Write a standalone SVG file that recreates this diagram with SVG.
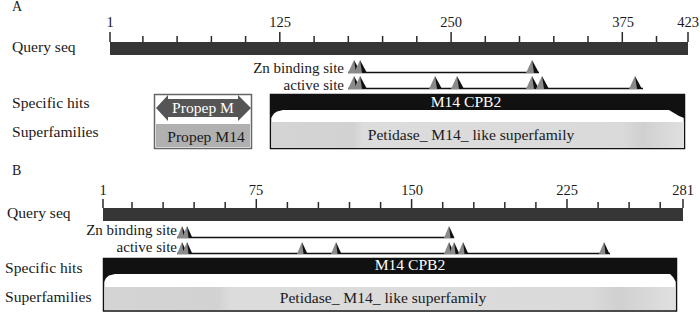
<svg xmlns="http://www.w3.org/2000/svg" xmlns:xlink="http://www.w3.org/1999/xlink" width="700" height="312" viewBox="0 0 700 312">
<style>
text{font-family:"Liberation Serif","Times New Roman",serif;fill:#1a1a1a;font-size:15.6px}
.panel{font-size:14px}
.tl{font-size:14.5px;text-anchor:middle}
.site-l{font-size:15px}
.mid{text-anchor:middle}
.end{text-anchor:end}
.wt{fill:#ffffff}
.bar{fill:#363636}
.tick{stroke:#2a2a2a;stroke-width:1.5}
.site{stroke:#111;stroke-width:1.5}
.frame{fill:#ffffff;stroke:#111;stroke-width:1.5}
.hit{fill:#111}
.sf{fill:url(#sfg)}
</style>
<defs>
<linearGradient id="sfg" x1="0" y1="0" x2="1" y2="0">
<stop offset="0" stop-color="#d4d4d4"/>
<stop offset="0.2" stop-color="#d2d2d2"/>
<stop offset="0.22" stop-color="#dcdcdc"/>
<stop offset="0.85" stop-color="#dadada"/>
<stop offset="0.9" stop-color="#d0d0d0"/>
<stop offset="1" stop-color="#e0e0e0"/>
</linearGradient>
<g id="triA"><polygon points="-6,13 0,0 3,13" fill="#8a8a8a"/><polygon points="0,0 7,13 2,13" fill="#111"/></g>
<g id="triB"><polygon points="-5,12 0,0 2.5,12" fill="#8a8a8a"/><polygon points="0,0 5.5,12 1.5,12" fill="#111"/></g>
</defs>

<!-- Panel A -->
<g id="panelA">
<text class="panel" x="12" y="11">A</text>
<g id="A-labels">
<text x="12" y="52">Query seq</text>
<text x="12" y="108">Specific hits</text>
<text x="12" y="137">Superfamilies</text>
<text class="end site-l" x="344" y="72.5">Zn binding site</text>
<text class="end site-l" x="344" y="89.5">active site</text>
</g>
<g id="A-query">
<rect class="bar" x="110" y="42" width="578" height="13"/>
<g class="tick">
<line x1="110" y1="32" x2="110" y2="42"/><line x1="142.9" y1="36" x2="142.9" y2="42"/><line x1="177.1" y1="36" x2="177.1" y2="42"/><line x1="211.4" y1="36" x2="211.4" y2="42"/><line x1="245.6" y1="36" x2="245.6" y2="42"/><line x1="279.8" y1="32" x2="279.8" y2="42"/><line x1="314.1" y1="36" x2="314.1" y2="42"/><line x1="348.3" y1="36" x2="348.3" y2="42"/><line x1="382.6" y1="36" x2="382.6" y2="42"/><line x1="416.8" y1="36" x2="416.8" y2="42"/><line x1="451.1" y1="32" x2="451.1" y2="42"/><line x1="485.3" y1="36" x2="485.3" y2="42"/><line x1="519.5" y1="36" x2="519.5" y2="42"/><line x1="553.8" y1="36" x2="553.8" y2="42"/><line x1="588" y1="36" x2="588" y2="42"/><line x1="622.3" y1="32" x2="622.3" y2="42"/><line x1="656.5" y1="36" x2="656.5" y2="42"/><line x1="688" y1="32" x2="688" y2="42"/>
</g>
<text class="tl" x="110" y="27">1</text>
<text class="tl" x="280" y="27">125</text>
<text class="tl" x="451" y="27">250</text>
<text class="tl" x="623" y="27">375</text>
<text class="tl" x="688" y="27">423</text>
</g>
<g id="A-sites">
<line class="site" x1="348" y1="72.5" x2="539" y2="72.5"/>
<use xlink:href="#triA" x="354" y="60"/><use xlink:href="#triA" x="360" y="60"/><use xlink:href="#triA" x="532" y="60"/>
<line class="site" x1="348" y1="88.5" x2="643" y2="88.5"/>
<use xlink:href="#triA" x="354" y="76"/><use xlink:href="#triA" x="360" y="76"/><use xlink:href="#triA" x="435" y="76"/><use xlink:href="#triA" x="457" y="76"/><use xlink:href="#triA" x="532" y="76"/><use xlink:href="#triA" x="542" y="76"/><use xlink:href="#triA" x="635" y="76"/>
</g>
<g id="A-propep">
<rect x="154.5" y="94.5" width="97" height="54" fill="#fff" stroke="#666" stroke-width="1.5"/>
<polygon points="156,108 168,95 168,99 238,99 238,95 251,108 238,121 238,117 168,117 168,121" fill="#555"/>
<text class="wt mid" x="203" y="113">Propep M</text>
<rect x="156" y="124" width="94" height="23" fill="#b0b0b0"/>
<text class="mid" x="206" y="142">Propep M14</text>
</g>
<g id="A-cpb2">
<rect class="frame" x="270.5" y="94.5" width="414" height="54"/>
<polygon class="hit" points="271,95 684,95 684,118 679,116 669,110 283,110 277,111.5 274,113.5 271,118"/>
<text class="wt mid" x="466" y="107">M14 CPB2</text>
<rect class="sf" x="271.5" y="122" width="412.5" height="26"/>
<text class="mid" x="471" y="140">Petidase_ M14_ like superfamily</text>
</g>
</g>

<!-- Panel B -->
<g id="panelB">
<text class="panel" x="12" y="175">B</text>
<g id="B-labels">
<text x="7" y="218">Query seq</text>
<text x="5" y="273">Specific hits</text>
<text x="5" y="302">Superfamilies</text>
<text class="end site-l" x="177" y="235">Zn binding site</text>
<text class="end site-l" x="177" y="252">active site</text>
</g>
<g id="B-query">
<rect class="bar" x="103" y="208" width="580" height="13"/>
<g class="tick">
<line x1="103" y1="199" x2="103" y2="208"/><line x1="132" y1="202" x2="132" y2="208"/><line x1="163.1" y1="202" x2="163.1" y2="208"/><line x1="194.1" y1="202" x2="194.1" y2="208"/><line x1="225.2" y1="202" x2="225.2" y2="208"/><line x1="256.3" y1="199" x2="256.3" y2="208"/><line x1="287.4" y1="202" x2="287.4" y2="208"/><line x1="318.4" y1="202" x2="318.4" y2="208"/><line x1="349.5" y1="202" x2="349.5" y2="208"/><line x1="380.6" y1="202" x2="380.6" y2="208"/><line x1="411.6" y1="199" x2="411.6" y2="208"/><line x1="442.7" y1="202" x2="442.7" y2="208"/><line x1="473.8" y1="202" x2="473.8" y2="208"/><line x1="504.8" y1="202" x2="504.8" y2="208"/><line x1="535.9" y1="202" x2="535.9" y2="208"/><line x1="567" y1="199" x2="567" y2="208"/><line x1="598.1" y1="202" x2="598.1" y2="208"/><line x1="629.1" y1="202" x2="629.1" y2="208"/><line x1="660.2" y1="202" x2="660.2" y2="208"/><line x1="683" y1="199" x2="683" y2="208"/>
</g>
<text class="tl" x="103" y="195">1</text>
<text class="tl" x="256" y="195">75</text>
<text class="tl" x="412" y="195">150</text>
<text class="tl" x="567" y="195">225</text>
<text class="tl" x="683" y="195">281</text>
</g>
<g id="B-sites">
<line class="site" x1="177" y1="237.5" x2="454" y2="237.5"/>
<use xlink:href="#triB" x="182" y="226"/><use xlink:href="#triB" x="187" y="226"/><use xlink:href="#triB" x="449" y="226"/>
<line class="site" x1="177" y1="253.5" x2="610" y2="253.5"/>
<use xlink:href="#triB" x="182" y="242"/><use xlink:href="#triB" x="187" y="242"/><use xlink:href="#triB" x="302" y="242"/><use xlink:href="#triB" x="336" y="242"/><use xlink:href="#triB" x="449" y="242"/><use xlink:href="#triB" x="454" y="242"/><use xlink:href="#triB" x="463" y="242"/><use xlink:href="#triB" x="604" y="242"/>
</g>
<g id="B-cpb2">
<rect class="frame" x="103.5" y="258.5" width="573" height="52.5"/>
<polygon class="hit" points="104,259 676,259 676,282 673,277 670,274 115,274 109,275.5 106,278 104,282"/>
<text class="wt mid" x="410" y="270">M14 CPB2</text>
<rect class="sf" x="104.5" y="287" width="571" height="23"/>
<text class="mid" x="383" y="303">Petidase_ M14_ like superfamily</text>
</g>
</g>
</svg>
